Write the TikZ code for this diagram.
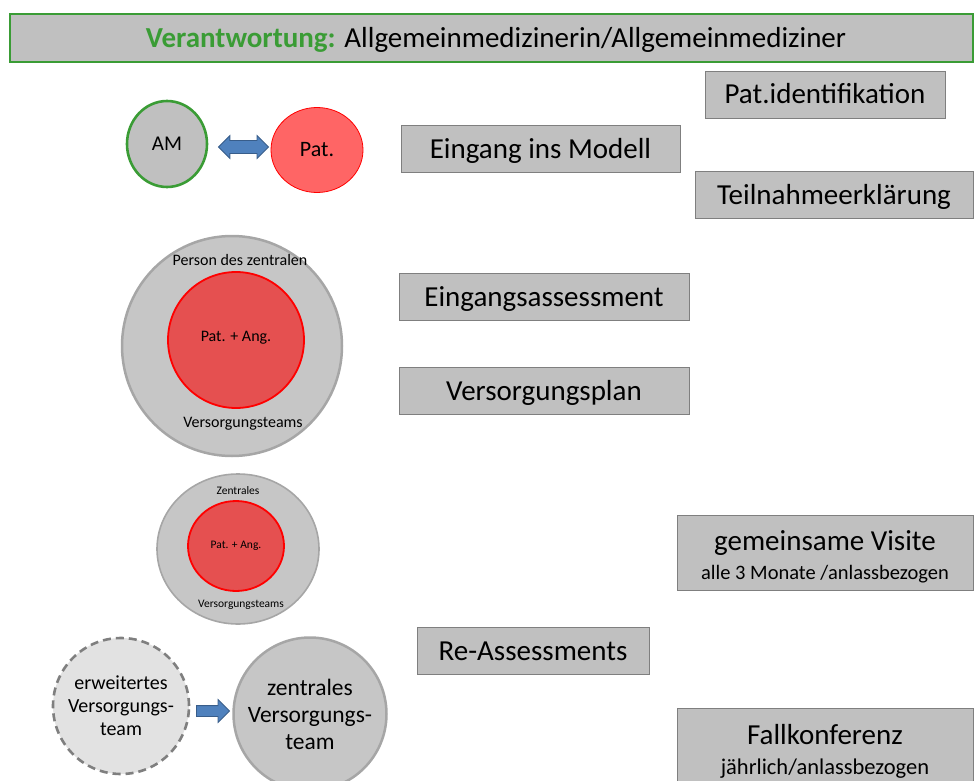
\documentclass[tikz,border=0pt]{standalone}
\usepackage{fontspec}
\setmainfont{Carlito}
\usepackage{xcolor}
\usetikzlibrary{positioning,calc,shapes.geometric,shapes.arrows}

\definecolor{boxgray}{HTML}{C0C0C0}
\definecolor{boxedge}{HTML}{7F7F7F}
\definecolor{circgray}{HTML}{C6C6C6}
\definecolor{circedge}{HTML}{A6A6A6}
\definecolor{amgreen}{HTML}{3A9C35}
\definecolor{patred}{HTML}{FF6565}
\definecolor{angred}{HTML}{E55050}
\definecolor{lightgray}{HTML}{E2E2E2}
\definecolor{arrowblue}{HTML}{4F81BD}
\definecolor{arrowedge}{HTML}{385D8A}

\tikzset{
  stepbox/.style={draw=boxedge, fill=boxgray, line width=0.8pt, inner sep=0pt,
    minimum height=47pt, align=center, font=\fontsize{29}{32}\selectfont},
  onestep/.style={stepbox, text height=21pt, text depth=2pt},
  team/.style={circle, fill=circgray, draw=circedge, line width=2.5pt, inner sep=0pt},
  patang/.style={circle, fill=angred, draw=red, line width=1.8pt, inner sep=0pt},
  blockarrow/.style={fill=arrowblue, draw=arrowedge, line width=0.8pt, inner sep=6pt,
    minimum width=0pt}
}

\begin{document}
\begin{tikzpicture}[x=1pt, y=-1pt]
  \useasboundingbox (0,0) rectangle (974,781);

  % Title
  \node[onestep, draw=amgreen, line width=1.6pt, minimum width=963pt, minimum height=48pt] (title) at (491.5,38)
        {\hspace*{9pt}\textcolor{amgreen}{\textbf{Verantwortung:}} Allgemeinmedizinerin/Allgemeinmediziner};

  % Steps
  \node[onestep, minimum width=240pt] (patid) at (825,94.5) {Pat.identifikation};
  \node[onestep, minimum width=279pt] (eingang) at (540.5,148.5) {Eingang ins Modell};
  \node[onestep, minimum width=278pt] (teilnahme) at (834,194.5) {Teilnahmeerklärung};
  \node[onestep, minimum width=290pt] (assess) at (544,296.5) {Eingangsassessment};
  \node[onestep, minimum width=290pt, below=47pt of assess] (plan) {Versorgungsplan};
  \node[stepbox, minimum width=296pt, minimum height=75pt] (visite) at (825,552.5)
        {\rule{0pt}{28pt}gemeinsame Visite\\[-3pt]{\fontsize{20.5}{22}\selectfont alle 3 Monate /anlassbezogen}};
  \node[onestep, minimum width=232pt] (reass) at (533,650.5) {Re-Assessments};
  \node[stepbox, minimum width=296pt, minimum height=78pt] (fallk) at (825,747)
        {\rule{0pt}{28pt}Fallkonferenz\\[-2pt]{\fontsize{22.5}{24}\selectfont jährlich/anlassbezogen}};

  % AM and patient
  \node[ellipse, fill=boxgray, draw=amgreen, line width=2.6pt, minimum width=80pt,
        minimum height=86pt, font=\fontsize{21}{23}\selectfont] (am) at (167,144) {AM};
  \node[ellipse, fill=patred, draw=red, line width=0.8pt, minimum width=92pt,
        minimum height=85pt, font=\fontsize{22}{24}\selectfont] (pat) at (317,150) {Pat.};
  \node[blockarrow, double arrow, minimum height=50pt,
        double arrow head extend=5pt, double arrow head indent=0pt]
        (link) at ($(am.east)!0.5!(pat.west)+(4,0)$) {};

  % Central team (large)
  \node[team, minimum size=220pt] (big) at (232,346) {};
  \node[patang, minimum size=136pt, font=\fontsize{16}{18}\selectfont] (bigpat) at (236,340)
        {\raisebox{8pt}{Pat. + Ang.}};
  \node[font=\fontsize{16}{18}\selectfont] (bigtop) at ([xshift=8pt, yshift=-25pt]big.north) {Person des zentralen};
  \node[font=\fontsize{16}{18}\selectfont] (bigbot) at ([xshift=11pt, yshift=34pt]big.south) {Versorgungsteams};

  % Central team (small)
  \node[team, ellipse, minimum width=162pt, minimum height=150pt, line width=1.6pt] (small) at (238,549) {};
  \node[patang, ellipse, minimum width=96pt, minimum height=90pt, font=\fontsize{11.5}{13}\selectfont]
        (smallpat) at (236,546) {\raisebox{3pt}{Pat. + Ang.}};
  \node[font=\fontsize{11.5}{13}\selectfont] (smalltop) at ([yshift=-17pt]small.north) {Zentrales};
  \node[font=\fontsize{11.5}{13}\selectfont] (smallbot) at ([xshift=3pt, yshift=20pt]small.south) {Versorgungsteams};

  % Extended and central team
  \node[circle, fill=lightgray, draw=boxedge, dashed, dash pattern=on 8pt off 5pt, line width=2.6pt,
        minimum size=136pt, align=center, font=\fontsize{20}{23}\selectfont] (erw) at (121,706)
        {erweitertes\\Versorgungs-\\team};
  \node[team, minimum size=153pt, align=center, font=\fontsize{23.5}{27}\selectfont] (zentral) at (310,714)
        {zentrales\\Versorgungs-\\team};
  \node[blockarrow, single arrow, minimum height=33pt, inner sep=5pt,
        single arrow head extend=6pt, single arrow head indent=0pt]
        (flow) at ($(erw.east)!0.5!(zentral.west)+(-1,1)$) {};

\end{tikzpicture}
\end{document}
